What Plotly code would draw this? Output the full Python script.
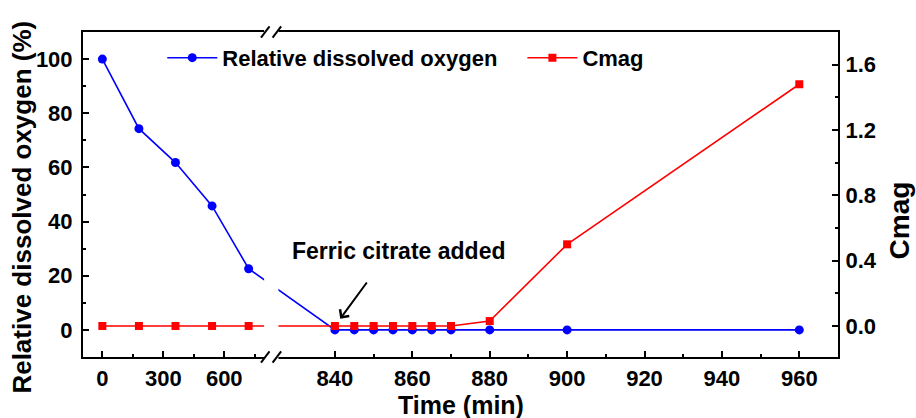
import plotly.graph_objects as go

# ---------------- data ----------------
time_min = [0, 180, 360, 540, 720, 840, 845, 850, 855, 860, 865, 870, 880, 900, 960]
rel_dissolved_oxygen = [100, 74.3, 61.8, 45.8, 22.6, 0, 0, 0, 0, 0, 0, 0, 0, 0, 0]
cmag = [0, 0, 0, 0, 0, 0, 0, 0, 0, 0, 0, 0, 0.03, 0.50, 1.48]

left_major_ticks = [0, 300, 600]
left_minor_ticks = [150, 450, 750]
right_major_ticks = [840, 860, 880, 900, 920, 940, 960]
right_minor_ticks = [850, 870, 890, 910, 930, 950]
y1_ticks = [0, 20, 40, 60, 80, 100]
y2_ticks = [0.0, 0.4, 0.8, 1.2, 1.6]

# ---------------- broken x-axis mapping ----------------
BREAK_T = 800          # time at which the axis is broken
LEFT_ORIGIN = 779.9    # axis position of t = 0 (left segment)
LEFT_SCALE = 0.0525    # compression of the left segment


def axis_pos(t):
    return LEFT_ORIGIN + LEFT_SCALE * t if t < BREAK_T else t


x_pos = [axis_pos(t) for t in time_min]

FONT = "Liberation Sans, Arial, sans-serif"

fig = go.Figure()
fig.add_trace(go.Scatter(
    x=x_pos, y=rel_dissolved_oxygen, name="Relative dissolved oxygen",
    mode="lines+markers", line=dict(color="#0000ff", width=1.6),
    marker=dict(symbol="circle", size=9, color="#0000ff"),
    legend="legend", yaxis="y", customdata=time_min,
    hovertemplate="%{customdata} min: %{y}<extra></extra>"))
fig.add_trace(go.Scatter(
    x=x_pos, y=cmag, name="Cmag",
    mode="lines+markers", line=dict(color="#ff0000", width=1.6),
    marker=dict(symbol="square", size=8, color="#ff0000"),
    legend="legend2", yaxis="y2", customdata=time_min,
    hovertemplate="%{customdata} min: %{y}<extra></extra>"))

tickvals = [axis_pos(t) for t in left_major_ticks + right_major_ticks]
ticktext = [str(t) for t in left_major_ticks + right_major_ticks]
minor_vals = [axis_pos(t) for t in left_minor_ticks + right_minor_ticks]

tickfont = dict(family=FONT, size=22, color="black", weight="bold")
legfont = dict(family=FONT, size=22, color="black", weight="bold")

fig.update_layout(
    width=916, height=418,
    margin=dict(l=83, r=78, t=32, b=61),
    paper_bgcolor="white", plot_bgcolor="white",
    xaxis=dict(
        range=[774.9, 970], tickmode="array", tickvals=tickvals, ticktext=ticktext,
        ticks="inside", ticklen=6, tickwidth=2, tickcolor="black",
        minor=dict(tickvals=minor_vals, ticks="inside", ticklen=3, tickwidth=2, tickcolor="black"),
        showline=True, linewidth=2, linecolor="black", mirror=True,
        showgrid=False, zeroline=False, tickfont=tickfont, automargin=False,
        ticklabelstandoff=1),
    yaxis=dict(
        range=[-10, 110], tickmode="array", tickvals=y1_ticks,
        ticks="inside", ticklen=6, tickwidth=2, tickcolor="black",
        minor=dict(dtick=10, ticks="inside", ticklen=3, tickwidth=2, tickcolor="black"),
        showline=True, linewidth=2, linecolor="black",
        showgrid=False, zeroline=False, tickfont=tickfont, automargin=False,
        ticklabelstandoff=4),
    yaxis2=dict(
        range=[-0.19, 1.8], overlaying="y", side="right", tickmode="array",
        tickvals=y2_ticks, tickformat=".1f",
        ticks="inside", ticklen=6, tickwidth=2, tickcolor="black",
        minor=dict(dtick=0.2, ticks="inside", ticklen=3, tickwidth=2, tickcolor="black"),
        showline=True, linewidth=2, linecolor="black",
        showgrid=False, zeroline=False, tickfont=tickfont, automargin=False,
        ticklabelstandoff=1),
    legend=dict(orientation="h", x=0.105, y=0.985, xanchor="left", yanchor="top",
                bgcolor="rgba(0,0,0,0)", font=legfont, itemwidth=50),
    legend2=dict(orientation="h", x=0.582, y=0.985, xanchor="left", yanchor="top",
                 bgcolor="rgba(0,0,0,0)", font=legfont, itemwidth=50),
    showlegend=True,
)

# axis titles
fig.add_annotation(text="Time (min)", xref="paper", yref="paper", x=0.5, y=-0.149,
                   xanchor="center", yanchor="middle", showarrow=False,
                   font=dict(family=FONT, size=25, color="black", weight="bold"))
fig.add_annotation(text="Relative dissolved oxygen (%)", xref="paper", yref="paper",
                   x=-0.082, y=0.46, xanchor="center", yanchor="middle", textangle=-90,
                   showarrow=False, font=dict(family=FONT, size=26, color="black", weight="bold"))
fig.add_annotation(text="Cmag", xref="paper", yref="paper",
                   x=1.082, y=0.42, xanchor="center", yanchor="middle", textangle=-90,
                   showarrow=False, font=dict(family=FONT, size=28, color="black", weight="bold"))

# break gap (white band) and break marks
gap_x0, gap_x1 = 821.7, 825.4
fig.add_shape(type="rect", xref="x", yref="paper", x0=gap_x0, x1=gap_x1, y0=-0.02, y1=1.02,
              fillcolor="white", line=dict(width=0), layer="above")
for xc in (822.0, 825.0):
    for yc in (0.0, 1.0):
        fig.add_shape(type="line", xref="x", yref="paper",
                      x0=xc - 1.1, x1=xc + 1.1, y0=yc - 0.017, y1=yc + 0.017,
                      line=dict(color="black", width=2), layer="above")

# annotation
fig.add_annotation(x=axis_pos(840), y=0, xref="x", yref="y2", text="",
                   showarrow=True, arrowhead=4, arrowsize=1.1, arrowwidth=2, arrowcolor="black",
                   ax=33, ay=-45, standoff=9)
fig.add_annotation(x=856.3, y=29, xref="x", yref="y", text="Ferric citrate added",
                   showarrow=False, font=dict(family=FONT, size=23, color="black", weight="bold"))

fig.write_html("out.html", config={"displayModeBar": False},
               post_script="document.body.style.margin='0';document.body.style.overflow='hidden';")
